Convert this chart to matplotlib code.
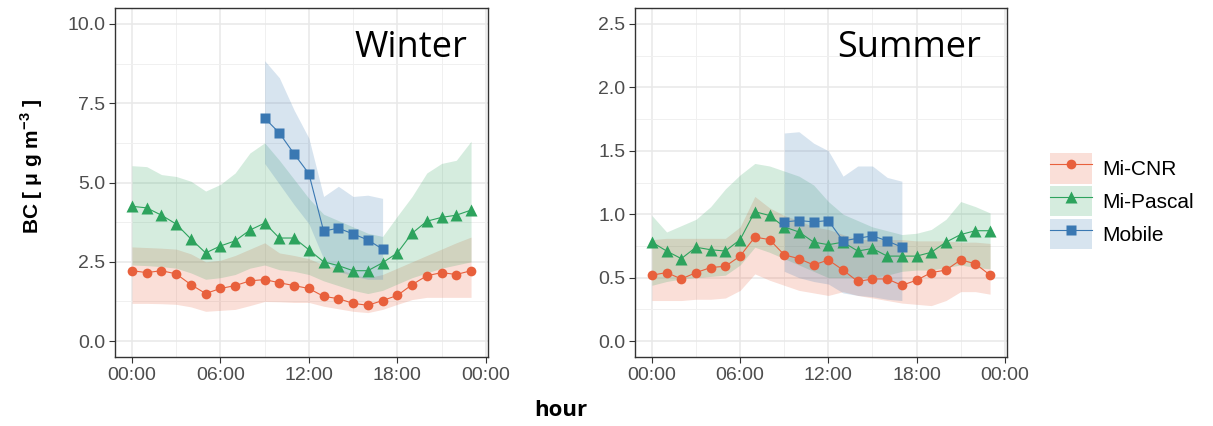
import numpy as np
import matplotlib
matplotlib.use('Agg')
import matplotlib.pyplot as plt
from matplotlib.patches import Patch
from matplotlib.lines import Line2D
from matplotlib.ticker import MultipleLocator

hours = np.arange(24)
mob_hours = np.arange(9, 18)
series_names = ['Mi-CNR', 'Mi-Pascal', 'Mobile']

# Winter
w_cnr = [2.22, 2.16, 2.22, 2.12, 1.78, 1.50, 1.66, 1.75, 1.90, 1.94, 1.84, 1.75,
         1.66, 1.41, 1.34, 1.19, 1.13, 1.28, 1.44, 1.78, 2.06, 2.16, 2.10, 2.22]
w_cnr_lo = [1.19, 1.19, 1.18, 1.16, 1.08, 0.94, 0.97, 1.00, 1.12, 1.25, 1.24, 1.22,
            1.22, 1.10, 1.02, 0.94, 0.90, 1.00, 1.16, 1.31, 1.38, 1.38, 1.38, 1.38]
w_cnr_hi = [2.97, 2.95, 2.93, 2.90, 2.75, 2.50, 2.55, 2.70, 2.90, 3.10, 2.78, 2.70,
            2.60, 2.40, 2.30, 2.10, 2.00, 2.10, 2.30, 2.50, 2.70, 2.90, 3.10, 3.28]
w_pas = [4.25, 4.20, 3.97, 3.69, 3.22, 2.78, 3.00, 3.16, 3.50, 3.72, 3.25, 3.25,
         2.88, 2.50, 2.38, 2.22, 2.22, 2.47, 2.78, 3.40, 3.78, 3.90, 3.97, 4.13]
w_pas_lo = [2.40, 2.38, 2.35, 2.30, 2.15, 1.95, 2.00, 2.10, 2.30, 2.40, 2.25, 2.20,
            2.10, 1.90, 1.75, 1.60, 1.50, 1.60, 1.80, 2.00, 2.15, 2.30, 2.40, 2.50]
w_pas_hi = [5.53, 5.50, 5.25, 5.19, 5.04, 4.73, 4.94, 5.30, 5.93, 6.25, 5.70, 5.10,
            4.50, 4.00, 3.80, 3.60, 3.40, 3.30, 3.94, 4.56, 5.30, 5.60, 5.70, 6.30]
w_mob = [7.03, 6.56, 5.90, 5.28, 3.47, 3.56, 3.38, 3.19, 2.90]
w_mob_lo = [5.60, 4.95, 4.30, 3.70, 2.60, 2.20, 2.05, 1.95, 1.95]
w_mob_hi = [8.84, 8.30, 7.28, 6.40, 4.56, 4.88, 4.56, 4.60, 4.50]

# Summer
s_cnr = [0.52, 0.54, 0.49, 0.54, 0.58, 0.59, 0.67, 0.82, 0.80, 0.68, 0.65, 0.60,
         0.64, 0.56, 0.47, 0.49, 0.49, 0.44, 0.48, 0.54, 0.56, 0.64, 0.61, 0.52]
s_cnr_lo = [0.32, 0.32, 0.32, 0.33, 0.33, 0.34, 0.40, 0.53, 0.48, 0.44, 0.40, 0.38,
            0.36, 0.39, 0.36, 0.34, 0.32, 0.30, 0.29, 0.28, 0.32, 0.39, 0.39, 0.37]
s_cnr_hi = [0.80, 0.81, 0.81, 0.81, 0.81, 0.81, 0.90, 1.14, 1.05, 0.99, 0.95, 0.90,
            0.88, 0.84, 0.80, 0.80, 0.80, 0.80, 0.79, 0.79, 0.79, 0.78, 0.78, 0.77]
s_pas = [0.78, 0.71, 0.65, 0.74, 0.72, 0.71, 0.80, 1.02, 0.99, 0.90, 0.86, 0.78,
         0.76, 0.78, 0.71, 0.73, 0.67, 0.67, 0.67, 0.70, 0.78, 0.84, 0.87, 0.87]
s_pas_lo = [0.44, 0.47, 0.49, 0.50, 0.51, 0.52, 0.60, 0.74, 0.70, 0.65, 0.60, 0.55,
            0.50, 0.50, 0.50, 0.50, 0.52, 0.55, 0.56, 0.56, 0.58, 0.60, 0.58, 0.57]
s_pas_hi = [0.99, 0.86, 0.91, 0.96, 1.06, 1.20, 1.31, 1.40, 1.38, 1.34, 1.30, 1.23,
            1.10, 1.00, 0.95, 0.90, 0.87, 0.84, 0.85, 0.88, 0.96, 1.10, 1.06, 1.01]
s_mob = [0.94, 0.95, 0.94, 0.95, 0.79, 0.81, 0.83, 0.79, 0.74]
s_mob_lo = [0.55, 0.50, 0.47, 0.45, 0.38, 0.36, 0.35, 0.33, 0.32]
s_mob_hi = [1.64, 1.65, 1.56, 1.50, 1.30, 1.38, 1.38, 1.29, 1.26]

colors = ['#E8603C', '#2DA35D', '#3A78B2']
markers = ['o', '^', 's']
msizes = [7, 8, 7]
fill_alpha = 0.2

xtick_pos = [0, 6, 12, 18, 24]
xtick_labels = ['00:00', '06:00', '12:00', '18:00', '00:00']

plt.rcParams['font.family'] = ['Liberation Sans', 'DejaVu Sans']

fig = plt.figure(figsize=(12.13, 4.26), dpi=100)
ax_w = fig.add_axes([115 / 1213, 69 / 426, 373 / 1213, 349 / 426])
ax_s = fig.add_axes([635 / 1213, 69 / 426, 372 / 1213, 349 / 426])


def draw_panel(ax, data, ylim, ystep, title, title_x):
    # ribbons first, then lines with points
    for (x, m, lo, hi), c in zip(data, colors):
        ax.fill_between(x, lo, hi, color=c, alpha=fill_alpha, lw=0, zorder=2)
    for (x, m, lo, hi), c, mk, ms in zip(data, colors, markers, msizes):
        ax.plot(x, m, color=c, lw=0.8, marker=mk, ms=ms, mec='none', zorder=3)
    ax.set_xlim(-1.15, 24.15)
    ax.set_ylim(*ylim)
    ax.set_xticks(xtick_pos)
    ax.set_xticklabels(xtick_labels)
    ax.xaxis.set_minor_locator(MultipleLocator(3))
    ax.yaxis.set_major_locator(MultipleLocator(ystep))
    ax.yaxis.set_minor_locator(MultipleLocator(ystep / 2))
    ax.yaxis.set_major_formatter(lambda v, p: f'{v:.1f}')
    ax.grid(which='major', color='#E8E8E8', lw=1.1, zorder=0)
    ax.grid(which='minor', color='#F0F0F0', lw=0.7, zorder=0)
    ax.set_axisbelow(True)
    ax.tick_params(which='major', direction='out', length=4, width=0.8,
                   color='#333333', labelcolor='#4D4D4D', labelsize=14, pad=3)
    ax.tick_params(which='minor', length=0)
    for s in ax.spines.values():
        s.set_color('#333333')
        s.set_linewidth(1.0)
    ax.text(title_x, 0.885, title, transform=ax.transAxes, ha='right', va='center',
            fontsize=26, family='Open Sans', color='black')


draw_panel(ax_w, [(hours, w_cnr, w_cnr_lo, w_cnr_hi),
                  (hours, w_pas, w_pas_lo, w_pas_hi),
                  (mob_hours, w_mob, w_mob_lo, w_mob_hi)],
           (-0.5, 10.5), 2.5, 'Winter', 0.945)
draw_panel(ax_s, [(hours, s_cnr, s_cnr_lo, s_cnr_hi),
                  (hours, s_pas, s_pas_lo, s_pas_hi),
                  (mob_hours, s_mob, s_mob_lo, s_mob_hi)],
           (-0.125, 2.625), 0.5, 'Summer', 0.93)

fig.text(0.026, 0.61, r'BC [ $\mathregular{\mu}$ g m$^{\mathregular{-3}}$ ]', rotation=90,
         ha='center', va='center', fontsize=15, fontweight='bold')
fig.text(561 / 1213, (426 - 410) / 426, 'hour', ha='center', va='center',
         fontsize=16, family='Open Sans', fontweight='bold')

handles = []
for c, mk, ms in zip(colors, markers, msizes):
    p = Patch(facecolor=c, alpha=fill_alpha, edgecolor='none')
    l = Line2D([], [], color=c, lw=0.8, marker=mk, ms=ms, mec='none')
    handles.append((p, l))
fig.legend(handles, series_names, loc='center left',
           bbox_to_anchor=(1050 / 1213, (426 - 201) / 426), frameon=False,
           fontsize=15, handlelength=2.0, handleheight=1.9, labelspacing=0.1,
           handletextpad=0.5, borderpad=0, borderaxespad=0)

fig.savefig('out.png', dpi=100)
